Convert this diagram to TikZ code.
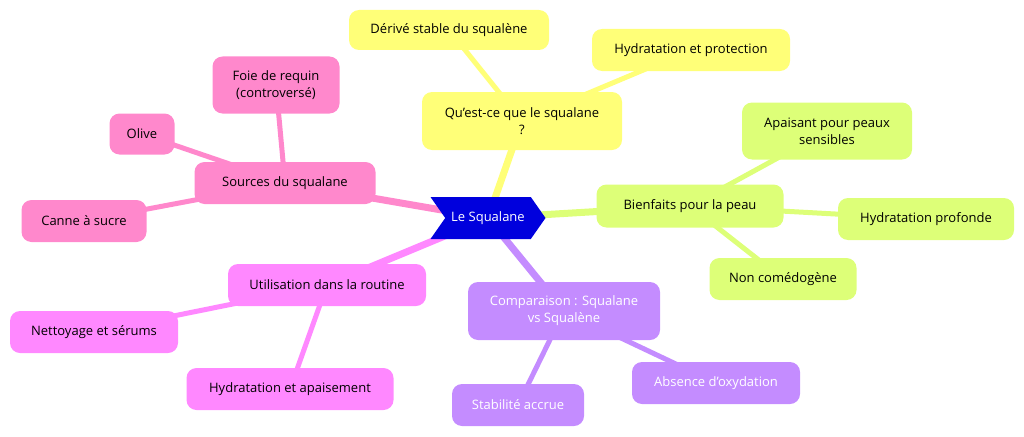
\documentclass[tikz,border=0pt]{standalone}
\usepackage{fontspec}
\setmainfont{Open Sans}
\usetikzlibrary{shapes.misc,shapes.geometric,shapes.symbols,backgrounds}
\definecolor{colY}{HTML}{FFFF78}
\definecolor{colG}{HTML}{DDFF78}
\definecolor{colP}{HTML}{C48CFF}
\definecolor{colM}{HTML}{FF88FF}
\definecolor{colK}{HTML}{FF88CC}
\definecolor{colB}{HTML}{0000DD}
\tikzset{
 box/.style={rounded corners=10pt,inner sep=0pt,font=\fontsize{13}{17}\selectfont,align=center},
 lnk/.style={line width=7pt},
 sub/.style={line width=5pt}
}
\begin{document}
\begin{tikzpicture}[x=1pt,y=-1pt]
\useasboundingbox (0,0) rectangle (1024,436);
\node[box,fill=colB,text=white,shape=signal,signal to=east,signal from=west,signal pointer angle=110,rounded corners=0pt,minimum width=115,minimum height=42] (r) at (488,218) {Le Squalane};
\node[box,fill=colY,minimum width=200,minimum height=58] (q) at (522,121) {Qu'est-ce que le squalane\\?};
\node[box,fill=colY,minimum width=200,minimum height=40] (q1) at (449,30) {Dérivé stable du squalène};
\node[box,fill=colY,minimum width=198,minimum height=42] (q2) at (691,50) {Hydratation et protection};
\node[box,fill=colG,minimum width=187,minimum height=43] (b) at (690,206) {Bienfaits pour la peau};
\node[box,fill=colG,minimum width=170,minimum height=57] (b1) at (827,131) {Apaisant pour peaux\\sensibles};
\node[box,fill=colG,minimum width=176,minimum height=42] (b2) at (926,219) {Hydratation profonde};
\node[box,fill=colG,minimum width=147,minimum height=42] (b3) at (783,279) {Non comédogène};
\node[box,fill=colP,text=white,minimum width=192,minimum height=58] (c) at (564,311) {Comparaison : Squalane\\vs Squalène};
\node[box,fill=colP,text=white,minimum width=168,minimum height=42] (c1) at (716,383) {Absence d'oxydation};
\node[box,fill=colP,text=white,minimum width=132,minimum height=42] (c2) at (518,405) {Stabilité accrue};
\node[box,fill=colM,minimum width=198,minimum height=42] (u) at (327,285) {Utilisation dans la routine};
\node[box,fill=colM,minimum width=168,minimum height=42] (u1) at (94,332) {Nettoyage et sérums};
\node[box,fill=colM,minimum width=207,minimum height=42] (u2) at (290,389) {Hydratation et apaisement};
\node[box,fill=colK,minimum width=181,minimum height=42] (s) at (285,183) {Sources du squalane};
\node[box,fill=colK,minimum width=127,minimum height=57] (s1) at (276,85) {Foie de requin\\(controversé)};
\node[box,fill=colK,minimum width=65,minimum height=41] (s2) at (142,134) {Olive};
\node[box,fill=colK,minimum width=125,minimum height=42] (s3) at (84,221) {Canne à sucre};
\begin{scope}[on background layer]
\draw[lnk,draw=colY] (r.center) -- (q.center);
\draw[sub,draw=colY] (q.center) -- (q1.center); \draw[sub,draw=colY] (q.center) -- (q2.center);
\draw[lnk,draw=colG] (r.center) -- (b.center);
\draw[sub,draw=colG] (b.center) -- (b1.center); \draw[sub,draw=colG] (b.center) -- (b2.center); \draw[sub,draw=colG] (b.center) -- (b3.center);
\draw[lnk,draw=colP] (r.center) -- (c.center);
\draw[sub,draw=colP] (c.center) -- (c1.center); \draw[sub,draw=colP] (c.center) -- (c2.center);
\draw[lnk,draw=colM] (r.center) -- (u.center);
\draw[sub,draw=colM] (u.center) -- (u1.center); \draw[sub,draw=colM] (u.center) -- (u2.center);
\draw[lnk,draw=colK] (r.center) -- (s.center);
\draw[sub,draw=colK] (s.center) -- (s1.center); \draw[sub,draw=colK] (s.center) -- (s2.center); \draw[sub,draw=colK] (s.center) -- (s3.center);
\end{scope}
\end{tikzpicture}
\end{document}
